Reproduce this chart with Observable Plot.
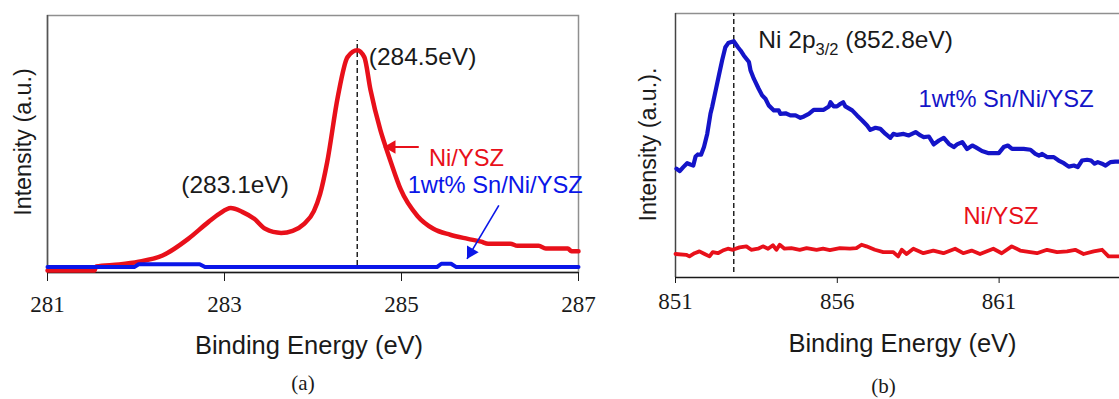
<!DOCTYPE html>
<html>
<head>
<meta charset="utf-8">
<script src="https://cdn.jsdelivr.net/npm/d3@7"></script>
<script src="https://cdn.jsdelivr.net/npm/@observablehq/plot@0.6"></script>
<style>
  body { margin: 0; background: #fff; }
  #wrap { position: relative; width: 1119px; height: 399px; overflow: hidden; background: #fff; }
  #panelA, #panelB { position: absolute; top: 0; }
  #panelA { left: 0; }
  #panelB { left: 620px; }
</style>
</head>
<body>
<div id="wrap"><div id="panelA"></div><div id="panelB"></div></div>
<script>
// ---- C 1s region (panel a) ----
const c1sEnergy = [281.0, 281.53, 281.55, 281.81, 282.03, 282.3, 282.59, 282.82, 282.94, 283.07, 283.2, 283.34, 283.46, 283.64, 283.77, 283.9, 284.01, 284.08, 284.16, 284.28, 284.39, 284.5, 284.58, 284.65, 284.76, 284.82, 284.88, 284.99, 285.18, 285.36, 285.55, 285.75, 285.9, 285.98, 286.23, 286.31, 286.55, 286.63, 286.88, 286.92, 287.0];
const c1sNiYSZ = [0.8, 0.8, 2.3, 3.1, 4.2, 6.6, 13.1, 19.7, 22.8, 25.1, 23.6, 20.8, 17.0, 15.4, 16.2, 18.9, 23.9, 30.5, 42.9, 68.3, 83.8, 86.5, 83.8, 71.0, 55.6, 49.0, 42.9, 32.4, 22.0, 17.0, 14.7, 13.1, 12.0, 11.2, 11.2, 10.4, 10.4, 9.3, 9.3, 8.3, 8.3];
const c1sSnEnergy = [281.0, 281.98, 282.03, 282.72, 282.78, 285.4, 285.45, 285.56, 285.62, 287.0];
const c1sSnNiYSZ = [2.1, 2.1, 3.2, 3.2, 2.1, 2.1, 3.4, 3.4, 2.1, 2.1];

// ---- Ni 2p3/2 region (panel b) ----
const ni2pSnEnergy = [851.03, 851.13, 851.24, 851.36, 851.46, 851.55, 851.62, 851.69, 851.79, 851.88, 851.98, 852.08, 852.13, 852.24, 852.34, 852.44, 852.54, 852.63, 852.7, 852.8, 852.93, 853.01, 853.11, 853.27, 853.32, 853.42, 853.57, 853.68, 853.78, 853.88, 854.04, 854.19, 854.24, 854.4, 854.55, 854.71, 854.86, 854.97, 855.12, 855.27, 855.58, 855.74, 855.79, 855.89, 855.99, 856.1, 856.18, 856.25, 856.46, 856.61, 856.77, 856.92, 857.02, 857.18, 857.33, 857.49, 857.64, 857.73, 857.85, 858.05, 858.21, 858.42, 858.57, 858.67, 858.83, 858.98, 859.14, 859.29, 859.45, 859.6, 859.7, 859.86, 860.01, 860.17, 860.27, 860.47, 860.68, 860.99, 861.14, 861.27, 861.4, 861.76, 861.97, 862.12, 862.23, 862.33, 862.48, 862.69, 862.84, 863.0, 863.15, 863.31, 863.43, 863.56, 863.72, 863.84, 863.95, 864.05, 864.18, 864.29, 864.44, 864.59, 864.72];
const ni2pSnNiYSZ = [41.2, 40.3, 41.8, 43.3, 42.8, 42.4, 45.8, 46.6, 46.5, 49.4, 54.4, 62.0, 64.5, 70.8, 76.5, 82.2, 87.2, 88.8, 89.1, 89.5, 87.2, 86.0, 84.1, 81.6, 78.4, 75.3, 71.5, 68.9, 67.7, 65.2, 63.3, 63.3, 62.0, 62.2, 61.4, 61.4, 60.5, 61.0, 62.0, 63.5, 63.5, 64.8, 66.4, 64.8, 64.8, 65.8, 66.4, 64.8, 63.3, 61.4, 59.5, 57.6, 55.9, 56.7, 56.3, 54.4, 52.9, 54.4, 54.0, 54.4, 53.8, 55.1, 53.8, 53.2, 53.4, 50.4, 51.9, 52.9, 50.6, 49.4, 50.4, 51.3, 48.7, 50.0, 49.4, 47.9, 47.1, 47.1, 49.4, 50.0, 48.7, 48.7, 48.4, 46.8, 46.2, 46.8, 45.6, 45.6, 44.3, 43.3, 42.0, 42.4, 41.8, 44.3, 44.6, 44.3, 43.1, 43.7, 43.1, 42.4, 43.7, 43.9, 43.9];
const ni2pEnergy = [851.0, 851.33, 851.43, 851.59, 851.74, 851.9, 852.05, 852.15, 852.31, 852.46, 852.62, 852.77, 852.98, 853.19, 853.34, 853.55, 853.7, 853.86, 854.01, 854.12, 854.22, 854.37, 854.58, 854.84, 855.05, 855.36, 855.56, 855.77, 856.08, 856.39, 856.59, 856.75, 856.9, 857.16, 857.42, 857.73, 857.88, 857.99, 858.14, 858.35, 858.66, 858.97, 859.28, 859.64, 859.89, 860.15, 860.41, 860.82, 861.08, 861.39, 861.65, 861.96, 862.17, 862.48, 862.79, 863.1, 863.35, 863.61, 863.92, 864.18, 864.38, 864.72];
const ni2pNiYSZ = [8.9, 8.6, 8.0, 9.2, 9.9, 8.9, 8.0, 9.6, 9.2, 10.2, 10.9, 10.5, 11.4, 11.8, 10.5, 10.9, 11.8, 10.9, 12.2, 10.5, 12.4, 10.9, 11.1, 10.5, 11.1, 10.5, 10.9, 10.4, 11.1, 10.9, 11.1, 12.4, 11.8, 10.5, 9.6, 9.6, 8.0, 10.5, 8.9, 10.9, 9.2, 10.2, 9.2, 10.9, 9.2, 10.2, 8.9, 10.9, 9.2, 11.8, 10.2, 9.6, 9.2, 10.5, 9.6, 9.9, 10.5, 8.9, 9.9, 10.5, 8.0, 8.0];

// ---- tick values ----
const c1sTicks = [281, 283, 285, 287];
const ni2pTicks = [851, 856, 861];

// ---- annotations ----
const c1sPeakMain = 284.5;
const c1sPeakLabels = ["(284.5eV)", "(283.1eV)"];
const c1sPeakLabelX = [284.63, 283.12];
const c1sPeakLabelY = [83.7, 33.9];
const c1sSeriesLabels = ["Ni/YSZ", "1wt% Sn/Ni/YSZ"];
const c1sSeriesLabelX = [285.31, 285.07];
const c1sSeriesLabelY = [44.4, 33.9];
const c1sArrowFrom = [[285.195, 48.8], [286.10, 26.1]];
const c1sArrowTo = [[284.80, 48.8], [285.74, 5.3]];

const ni2pPeak = 852.8;
const ni2pPeakLabel = "Ni 2p3/2 (852.8eV)";
const ni2pPeakLabelPos = [853.56, 89.8];
const ni2pSeriesLabels = ["1wt% Sn/Ni/YSZ", "Ni/YSZ"];
const ni2pSeriesLabelX = [858.51, 859.9];
const ni2pSeriesLabelY = [67.6, 23.1];

const RED = "#e8101a";
const BLUE_A = "#0a16e8";
const BLUE_B = "#1414c8";
const INK = "#1a1a1a";
const SANS = "Liberation Sans, Arial, sans-serif";
const SERIF = "Liberation Serif, Times New Roman, serif";

const zip = (xs, ys) => xs.map((x, i) => ({e: x, v: ys[i]}));

// ---- panel (a): C 1s ----
const redA = zip(c1sEnergy, c1sNiYSZ);
const blueA = zip(c1sSnEnergy, c1sSnNiYSZ);
const arrowsA = c1sArrowFrom.map((f, i) => ({
  x1: f[0], y1: f[1], x2: c1sArrowTo[i][0], y2: c1sArrowTo[i][1],
  color: i === 0 ? RED : BLUE_A, w: i === 0 ? 2 : 1.6
}));

const plotA = Plot.plot({
  width: 600, height: 399,
  marginLeft: 47, marginRight: 22, marginTop: 15, marginBottom: 127,
  style: {fontFamily: SERIF, color: INK, background: "transparent"},
  x: {domain: [281, 287]},
  y: {domain: [0, 100], axis: null},
  marks: [
    Plot.frame({stroke: "#8f8f8f", strokeWidth: 1.5}),
    Plot.ruleY([0], {stroke: INK, strokeWidth: 1.5}),
    Plot.ruleX([281], {stroke: "#555", strokeWidth: 1.5}),
    Plot.axisX({ticks: c1sTicks, tickFormat: d => String(d), tickSize: 9, tickPadding: 14, fontSize: 23, fontFamily: SERIF, label: null}),
    Plot.ruleX([c1sPeakMain], {y1: 2.7, y2: 90.3, stroke: "#222", strokeWidth: 1.5, strokeDasharray: "5,3"}),
    Plot.line(redA, {x: "e", y: "v", stroke: RED, strokeWidth: 4.5, curve: "monotone-x"}),
    Plot.line(blueA, {x: "e", y: "v", stroke: BLUE_A, strokeWidth: 4}),
    Plot.link(arrowsA, {x1: "x1", y1: "y1", x2: "x2", y2: "y2", stroke: "color", strokeWidth: "w"}),
    Plot.dot(arrowsA.slice(0, 1), {x: "x2", y: "y2", symbol: "triangle", r: 5, fill: RED, stroke: "none", rotate: 270, dx: 7.8}),
    Plot.dot(arrowsA.slice(1), {x: "x2", y: "y2", symbol: "triangle", r: 5, fill: BLUE_A, stroke: "none", rotate: 210, dx: 3.9, dy: -6.7}),
    Plot.text(c1sPeakLabels.slice(0, 1), {x: [c1sPeakLabelX[0]], y: [c1sPeakLabelY[0]], text: d => d, textAnchor: "start", fontFamily: SANS, fontSize: 24.5, fill: INK}),
    Plot.text(c1sPeakLabels.slice(1), {x: [c1sPeakLabelX[1]], y: [c1sPeakLabelY[1]], text: d => d, textAnchor: "middle", fontFamily: SANS, fontSize: 24.5, fill: INK}),
    Plot.text(c1sSeriesLabels, {x: c1sSeriesLabelX, y: c1sSeriesLabelY, text: d => d, textAnchor: "start", fontFamily: SANS, fontSize: 23.7, fill: (d, i) => i === 0 ? RED : BLUE_A}),
    Plot.text(["Binding Energy (eV)"], {frameAnchor: "bottom", textAnchor: "middle", lineAnchor: "middle", dx: -4, dy: 73, fontFamily: SANS, fontSize: 25.5, fill: INK}),
    Plot.text(["Intensity (a.u.)"], {frameAnchor: "left", textAnchor: "middle", lineAnchor: "middle", rotate: -90, dx: -24, dy: -2, fontFamily: SANS, fontSize: 23.3, fill: INK}),
    Plot.text(["(a)"], {frameAnchor: "bottom", textAnchor: "middle", lineAnchor: "middle", dx: -10, dy: 111, fontFamily: SERIF, fontSize: 21, fill: INK})
  ]
});
document.getElementById("panelA").appendChild(plotA);

// ---- panel (b): Ni 2p3/2 ----
const blueB = zip(ni2pSnEnergy, ni2pSnNiYSZ);
const redB = zip(ni2pEnergy, ni2pNiYSZ);

const plotB = Plot.plot({
  width: 499, height: 399,
  marginLeft: 55, marginRight: 0, marginTop: 13, marginBottom: 122,
  style: {fontFamily: SERIF, color: INK, background: "transparent"},
  x: {domain: [851, 864.72]},
  y: {domain: [0, 100], axis: null},
  marks: [
    Plot.ruleY([100], {stroke: "#8f8f8f", strokeWidth: 1.5}),
    Plot.ruleX([851], {stroke: "#444", strokeWidth: 1.5}),
    Plot.ruleY([0], {stroke: INK, strokeWidth: 1.5}),
    Plot.axisX({ticks: ni2pTicks, tickFormat: d => String(d), tickSize: 6, tickPadding: 9, fontSize: 23, fontFamily: SERIF, label: null}),
    Plot.ruleX([ni2pPeak], {y1: 1.9, y2: 100, stroke: "#222", strokeWidth: 1.5, strokeDasharray: "5,3"}),
    Plot.line(redB, {x: "e", y: "v", stroke: RED, strokeWidth: 3.8}),
    Plot.line(blueB, {x: "e", y: "v", stroke: BLUE_B, strokeWidth: 4.2}),
    Plot.text([ni2pPeakLabel], {x: [ni2pPeakLabelPos[0]], y: [ni2pPeakLabelPos[1]], text: d => d, textAnchor: "start", fontFamily: SANS, fontSize: 24.5, fill: INK}),
    Plot.text(ni2pSeriesLabels, {x: ni2pSeriesLabelX, y: ni2pSeriesLabelY, text: d => d, textAnchor: "start", fontFamily: SANS, fontSize: 23.7, fill: (d, i) => i === 0 ? BLUE_B : RED}),
    Plot.text(["Binding Energy (eV)"], {frameAnchor: "bottom", textAnchor: "middle", lineAnchor: "middle", dx: 5, dy: 66, fontFamily: SANS, fontSize: 25.5, fill: INK}),
    Plot.text(["Intensity (a.u.)."], {frameAnchor: "left", textAnchor: "middle", lineAnchor: "middle", rotate: -90, dx: -27, dy: -1, fontFamily: SANS, fontSize: 23.3, fill: INK}),
    Plot.text(["(b)"], {frameAnchor: "bottom", textAnchor: "middle", lineAnchor: "middle", dx: -14, dy: 109, fontFamily: SERIF, fontSize: 21, fill: INK})
  ]
});
document.getElementById("panelB").appendChild(plotB);

// typeset the 3/2 as a subscript in the Ni 2p label
plotB.querySelectorAll("text").forEach(t => {
  if (t.textContent === ni2pPeakLabel) {
    const ns = "http://www.w3.org/2000/svg";
    t.textContent = "";
    const a = document.createElementNS(ns, "tspan"); a.textContent = "Ni 2p";
    const b = document.createElementNS(ns, "tspan"); b.textContent = "3/2";
    b.setAttribute("font-size", "16.5"); b.setAttribute("dy", "7");
    const c = document.createElementNS(ns, "tspan"); c.textContent = " (852.8eV)";
    c.setAttribute("dy", "-7");
    t.append(a, b, c);
  }
});
</script>
</body>
</html>
